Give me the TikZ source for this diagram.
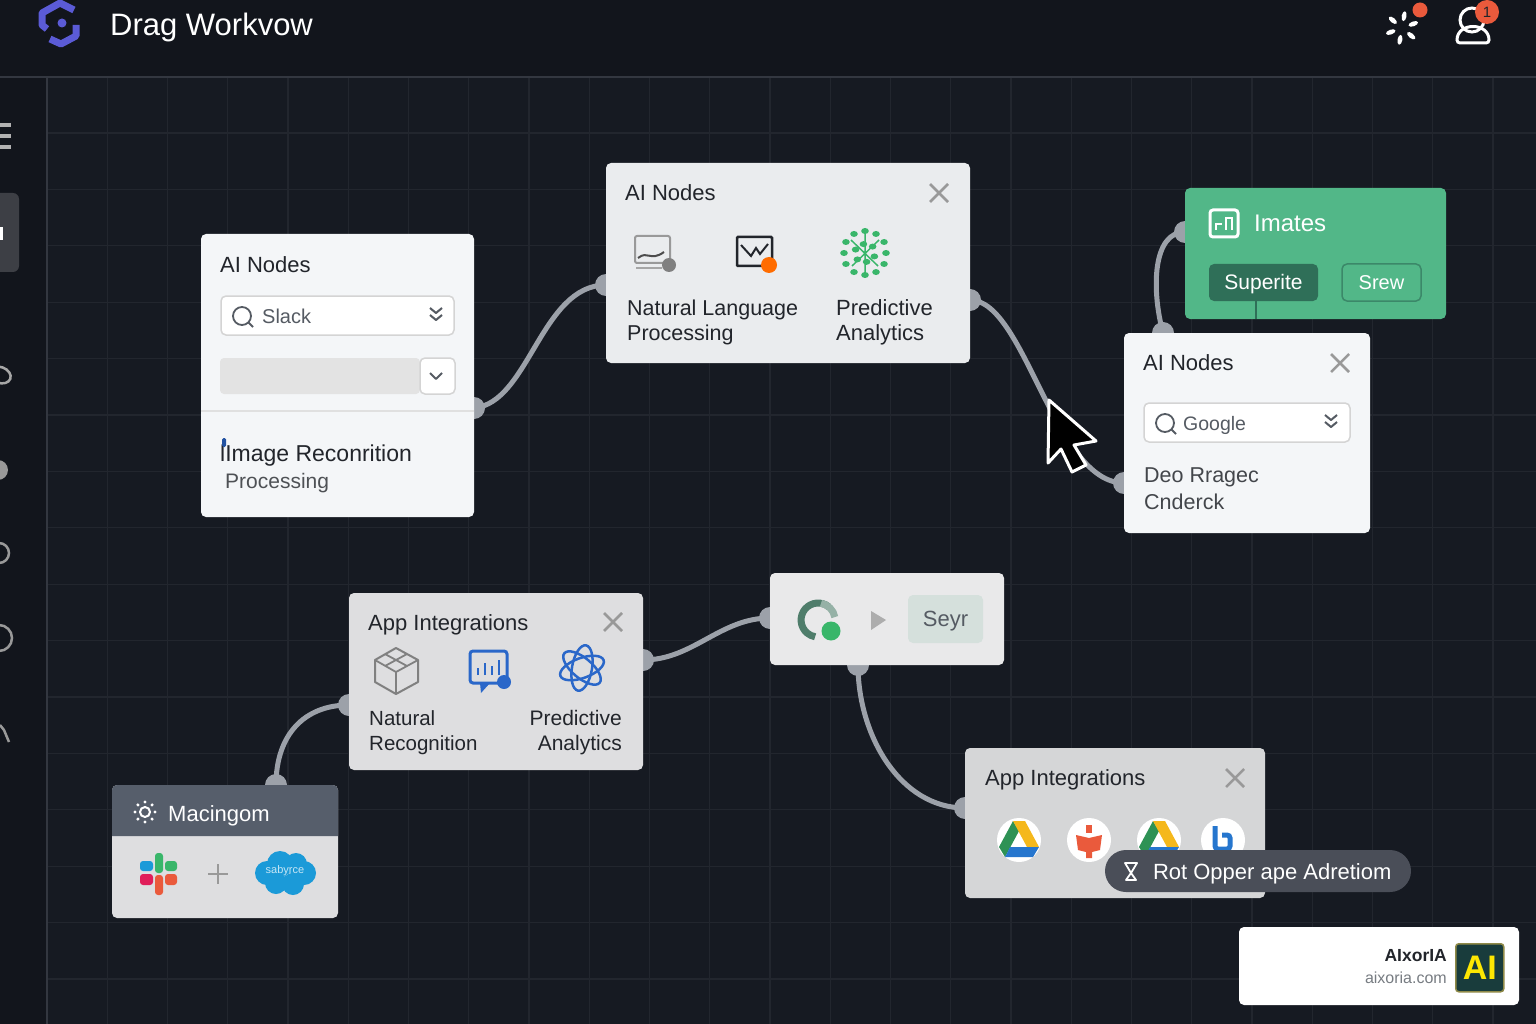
\documentclass[tikz,border=0pt]{standalone}
\usepackage{fontspec}
\setmainfont{Liberation Sans}
\usepackage{tikz}
\usetikzlibrary{positioning,calc,shapes.geometric,shapes.misc}
\definecolor{bgdark}{HTML}{161A22}
\definecolor{bgtop}{HTML}{12151C}
\definecolor{gridc}{HTML}{22262E}
\definecolor{edgec}{HTML}{333740}
\definecolor{wirec}{HTML}{9CA1A9}
\definecolor{inkc}{HTML}{22252B}
\definecolor{softc}{HTML}{555B63}
\definecolor{greenc}{HTML}{52B788}
\definecolor{dgreen}{HTML}{2F6F58}
\definecolor{bluec}{HTML}{2A67C9}
\definecolor{leafc}{HTML}{39B66A}
\definecolor{pillc}{HTML}{4A4E58}
\definecolor{headc}{HTML}{565E6B}
\definecolor{purplec}{HTML}{5B5BD6}
\definecolor{redc}{HTML}{EA5A3C}
\definecolor{yellowc}{HTML}{F5B81C}
\definecolor{skyc}{HTML}{1B9AD8}
\definecolor{pinkc}{HTML}{E01E5A}
\definecolor{ringc}{HTML}{4F7D6B}
\definecolor{paperc}{HTML}{F4F6F8}
\definecolor{sagec}{HTML}{D5E0DC}
\pgfdeclarelayer{edgelayer}
\pgfsetlayers{edgelayer,main}
\tikzstyle{panel}=[anchor=north west, rectangle, rounded corners=5pt, inner sep=0pt, outer sep=0pt]
\tikzstyle{lightp}=[panel, fill=paperc]
\tikzstyle{greyp}=[panel, fill=white!85!gridc]
\tikzstyle{field}=[panel, draw=black!17, line width=1.5pt, fill=white]
\tikzstyle{lb}=[anchor=west, inner sep=0pt, text=inkc, align=left, yshift=-2.5pt, node font=\fontsize{22}{25}\selectfont]
\tikzstyle{sm}=[lb, text=softc, node font=\fontsize{20}{25}\selectfont]
\tikzstyle{btn}=[panel, text=white, text height=16pt, text depth=2pt, node font=\fontsize{21}{25}\selectfont]
\tikzstyle{dot}=[circle, fill=wirec, inner sep=0pt, minimum size=22pt]
\tikzstyle{wire}=[draw=wirec, line width=5pt]
\tikzstyle{cls}=[draw=black!40, line width=2.5pt]
\tikzstyle{chev}=[draw=softc, line width=2pt, line join=round]
\begin{document}
\begin{tikzpicture}[x=1pt, y=-1pt]
        \useasboundingbox (0,0) rectangle (1536,1024);
        \clip (0,0) rectangle (1536,1024);
        \begin{pgfonlayer}{edgelayer}
        \fill[bgdark] (0,0) rectangle (1536,1024);
        \fill[bgtop] (0,0) rectangle (1536,77);
        \fill[bgtop] (0,77) rectangle (47,1024);
        \foreach \gx in {107.25,167.5,...,1530}
                \draw[gridc, line width=1.2pt] (\gx,77) -- (\gx,1024);
        \foreach \gy in {133,189.4,...,1020}
                \draw[gridc, line width=1.2pt] (47,\gy) -- (1536,\gy);
        \draw[edgec, line width=2pt] (0,77) -- (1536,77);
        \draw[edgec, line width=2pt] (47,77) -- (47,1024);
        \end{pgfonlayer}

        \node (p1) [lightp, minimum width=273pt, minimum height=283pt] at (201,234) {};
        \node (p2) [lightp, fill=paperc!96!black, minimum width=364pt, minimum height=200pt] at (606,163) {};
        \node (p3) [panel, fill=greenc, minimum width=261pt, minimum height=131pt] at (1185,188) {};
        \node (p4) [lightp, minimum width=246pt, minimum height=200pt] at (1124,333) {};
        \node (p5) [greyp, minimum width=294pt, minimum height=177pt] at (349,593) {};
        \node (p6) [lightp, fill=white!90!gridc, minimum width=234pt, minimum height=92pt] at (770,573) {};
        \node (p7) [greyp, fill=white!81!gridc, minimum width=300pt, minimum height=150pt] at (965,748) {};
        \node (p8) [greyp, minimum width=226pt, minimum height=133pt] at (112,785) {};

        \begin{pgfonlayer}{edgelayer}
        \node (h1) [dot] at (p1.east |- 0,408) {};
        \node (h2) [dot] at (p2.west |- 0,285) {};
        \node (h3) [dot] at (p2.east |- 0,300) {};
        \node (h4) [dot] at (p4.west |- 0,483) {};
        \node (h5) [dot] at (1163,333) {};
        \node (h6) [dot] at (p3.west |- 0,232) {};
        \node (h7) [dot] at (p5.east |- 0,660) {};
        \node (h8) [dot] at (p6.west |- 0,618) {};
        \node (h9) [dot] at (858,665) {};
        \node (h10) [dot] at (p7.west |- 0,808) {};
        \node (h11) [dot] at (276,785) {};
        \node (h12) [dot] at (p5.west |- 0,705) {};
        \draw[wire] (h1.center) .. controls +(55,-5) and +(-65,0) .. (h2.center);
        \draw[wire] (h3.center) .. controls +(55,0) and +(-70,0) .. (h4.center);
        \draw[wire] (h5.center) .. controls +(-12,-45) and +(-32,0) .. (h6.center);
        \draw[wire] (h7.center) .. controls +(50,0) and +(-50,0) .. (h8.center);
        \draw[wire] (h9.center) .. controls +(0,70) and +(-65,0) .. (h10.center);
        \draw[wire] (h11.center) .. controls +(0,-50) and +(-45,0) .. (h12.center);
        \end{pgfonlayer}

        \node (ttl) [lb, text=white, node font=\fontsize{31}{35}\selectfont] at (110,25) {Drag Workvow};
        \draw[purplec, line width=7pt, line join=round] (47,29) -- (42,25) -- (42,13) -- (60,3) -- (74,10);
        \draw[purplec, line width=7pt, line join=round] (76,25) -- (76,36) -- (61,44) -- (50,39);
        \fill[purplec] (62,23) circle (4.5);
        \foreach \da in {20,80,140,200,260,320}
                \fill[white, rotate around={\da:(1402,28)}] (1402+12,28) ellipse (5 and 2.4);
        \fill[redc] (1420,10) circle (7.5);
        \draw[white, line width=3pt] (1472,20) circle (12);
        \draw[white, line width=3pt, rounded corners=3pt] (1457,43) .. controls (1457,22) and (1489,22) .. (1489,43) -- cycle;
        \node (bdg) [circle, fill=redc, inner sep=0pt, minimum size=24pt, text=inkc, node font=\fontsize{15}{16}\selectfont] at (1487,12) {1};

        \foreach \sy in {125,136,147}
                \draw[black!30, line width=3.5pt] (-2,\sy) -- (11,\sy);
        \fill[white!18!bgtop, rounded corners=6pt] (-8,193) rectangle (19,272);
        \fill[white] (-2,227) rectangle (3,240);
        \draw[black!35, line width=2.5pt, rotate around={-20:(0,375)}] (0,375) ellipse (11 and 8);
        \fill[black!40] (-2,470) circle (10);
        \draw[black!40, line width=2.5pt] (-1,553) circle (10);
        \draw[black!40, line width=2.5pt] (-1,638) circle (13);
        \draw[black!40, line width=2.5pt] (0,725) -- (4,730) -- (9,742);

        \node (a1) [lb, below right=28pt and 19pt of p1.north west, anchor=west] {AI Nodes};
        \node (a2) [field, minimum width=233pt, minimum height=39pt] at (221,296) {};
        \node (a3) [sm, right=41pt of a2.west, anchor=west, yshift=2pt] {Slack};
        \fill[black!11, rounded corners=4pt] (220,358) rectangle (420,394);
        \node (a4) [field, minimum width=35pt, minimum height=36pt] at (420,358) {};
        \draw[black!12, line width=1.5pt] (p1.west |- 0,411) -- (p1.east |- 0,411);
        \node (a5) [lb, below right=219pt and 19pt of p1.north west, anchor=west, node font=\fontsize{23}{25}\selectfont] {lImage Reconrition};
        \node (a6) [sm, node font=\fontsize{21}{25}\selectfont, below right=247pt and 24pt of p1.north west, anchor=west, text=inkc!80!white] {Processing};
        \fill[bluec!80!black, rounded corners=1.5pt] (222,438) rectangle (226,447);

        \node (b1) [lb, below right=27pt and 19pt of p2.north west, anchor=west] {AI Nodes};
        \node (b2) [lb, node font=\fontsize{21.5}{25}\selectfont, below right=157pt and 21pt of p2.north west, anchor=west] {Natural Language\\Processing};
        \node (b3) [lb, below right=157pt and 230pt of p2.north west, anchor=west] {Predictive\\Analytics};
        \draw[black!40, line width=2pt, rounded corners=2pt] (635,236) rectangle (670,263);
        \draw[black!70, line width=2pt] (638,258) .. controls (648,250) and (650,262) .. (664,252);
        \draw[black!35, line width=2pt] (636,268) -- (662,268);
        \fill[black!50] (669,265) circle (7);
        \draw[inkc, line width=2.5pt, rounded corners=1pt] (737,237) rectangle (772,266);
        \draw[inkc, line width=2pt] (741,245) -- (751,256) -- (756,248) -- (760,254) -- (768,244);
        \fill[orange!85!red] (769,265) circle (8);
        \foreach \ga/\gr in {0/21,30/22,60/22,90/22,120/22,150/22,180/21,210/22,240/22,270/22,300/22,330/22,20/10,80/9,140/10,200/10,260/9,320/10}
                \fill[leafc] (865,253) ++(\ga:\gr) ellipse (3.8 and 3);
        \draw[leafc, line width=1.5pt] (851,240) -- (878,266) (879,240) -- (852,266) (865,231) -- (865,276);

        \node (c1) [lb, text=white, node font=\fontsize{24}{25}\selectfont, below right=33pt and 69pt of p3.north west, anchor=west] {Imates};
        \draw[white, line width=3pt, rounded corners=3pt] (1210,210) rectangle (1238,237);
        \draw[white, line width=2pt] (1216,230) -- (1216,224) -- (1222,224) (1226,230) -- (1226,218) -- (1232,218) -- (1232,230);
        \node (c2) [btn, fill=dgreen, minimum width=109pt, minimum height=37pt] at (1209,264) {Superite};
        \node (c3) [btn, draw=dgreen!65!greenc, line width=1.5pt, node font=\fontsize{20}{25}\selectfont, fill=greenc, minimum width=79pt, minimum height=37pt] at (1342,264) {Srew};
        \draw[dgreen, line width=1.5pt] (c2.south -| 1256,0) -- (1256,319);

        \node (d1) [lb, below right=27pt and 19pt of p4.north west, anchor=west] {AI Nodes};
        \node (d2) [field, minimum width=206pt, minimum height=39pt] at (1144,403) {};
        \node (d3) [sm, node font=\fontsize{19.5}{25}\selectfont, right=39pt of d2.west, anchor=west] {Google};
        \node (d4) [lb, node font=\fontsize{21.5}{27}\selectfont, text=inkc!85!white, below right=153.5pt and 20pt of p4.north west, anchor=west] {Deo Rragec\\Cnderck};

        \foreach \cx/\cy in {939/193,1340/363,613/622,1235/778} {
                \draw[cls] (\cx-9,\cy-9) -- (\cx+9,\cy+9);
                \draw[cls] (\cx-9,\cy+9) -- (\cx+9,\cy-9);
        }
        \foreach \mx/\my in {242/316,1165/423} {
                \draw[softc, line width=1.8pt] (\mx,\my) circle (9);
                \draw[softc, line width=1.8pt] (\mx+6.5,\my+6.5) -- (\mx+11,\my+11);
        }
        \foreach \kx/\ky in {436/311,436/318,1331/418,1331/425}
                \draw[chev] (\kx-6,\ky-3) -- (\kx,\ky+2) -- (\kx+6,\ky-3);
        \draw[chev] (430,373) -- (436,379) -- (442,373);

        \node (e1) [lb, below right=29pt and 19pt of p5.north west, anchor=west] {App Integrations};
        \node (e2) [lb, node font=\fontsize{20.5}{25}\selectfont, below right=137pt and 20pt of p5.north west, anchor=west] {Natural\\Recognition};
        \node (e3) [lb, node font=\fontsize{21}{25}\selectfont, below left=137pt and 21pt of p5.north east, anchor=east, align=right] {Predictive\\Analytics};
        \draw[black!50, line width=2pt, line join=round] (396,648) -- (418,660) -- (418,682) -- (396,694) -- (375,682) -- (375,660) -- cycle;
        \draw[black!50, line width=1.8pt] (375,660) -- (396,672) -- (418,660) (396,672) -- (396,694) (385,654) -- (407,666) (407,654) -- (385,666);
        \draw[bluec, line width=3pt, rounded corners=3pt] (470,651) rectangle (507,683);
        \fill[bluec] (480,683) -- (490,683) -- (481,693) -- cycle;
        \foreach \bx/\bh in {478/7,485/12,492/9,499/15}
                \draw[bluec, line width=2.5pt] (\bx,675) -- (\bx,675-\bh);
        \fill[bluec] (504,682) circle (7);
        \foreach \ra in {20,80,140}
                \draw[bluec, line width=2.5pt, rotate around={\ra:(582,668)}] (582,668) ellipse (23 and 10);

        \node (f1) [btn, fill=sagec, minimum width=75pt, minimum height=48pt, text=softc, node font=\fontsize{22}{25}\selectfont] at (908,595) {Seyr};
        \draw[ringc, line width=7pt] (829,607) arc (-50:-260:17);
        \draw[ringc!60!white, line width=7pt] (821,603.3) arc (-80:-10:17);
        \fill[leafc] (831,631) circle (9.5);
        \fill[black!32] (871,611) -- (886,620) -- (871,630) -- cycle;

        \node (g1) [lb, below right=29pt and 20pt of p7.north west, anchor=west] {App Integrations};
        \foreach \wx/\wy in {1019/840,1089/840,1159/840,1223/840}
                \fill[white] (\wx,\wy) circle (22);
        \foreach \dx in {1019,1159} {
                \fill[leafc!80!black] (\dx-6,821) -- (\dx,831) -- (\dx-14,857) -- (\dx-20,847) -- cycle;
                \fill[yellowc] (\dx-6,821) -- (\dx+6,821) -- (\dx+20,847) -- (\dx+8,847) -- cycle;
                \fill[bluec!90!cyan] (\dx-9,847) -- (\dx+20,847) -- (\dx+14,857) -- (\dx-14,857) -- cycle;
        }
        \fill[redc] (1086,825) rectangle (1092,833);
        \fill[redc] (1076,835) -- (1089,838) -- (1102,835) -- (1100,850) -- (1092,852) -- (1092,858) -- (1086,858) -- (1086,852) -- (1078,850) -- cycle;
        \draw[bluec!90!cyan, line width=5pt, rounded corners=3pt] (1215,826) -- (1215,849) -- (1230,849) -- (1230,835) -- (1222,835);

        \node (g2) [rounded rectangle, fill=pillc, minimum width=306pt, minimum height=42pt, inner sep=0pt] at (1258,871) {};
        \node (g3) [lb, text=white, right=48pt of g2.west, anchor=west] {Rot Opper ape Adretiom};
        \draw[white, line width=1.8pt, line join=round] (1125,863) -- (1137,863) -- (1131,873) -- cycle (1131,873) -- (1126,880) -- (1136,880) -- cycle;

        \fill[headc] (112,836) [rounded corners=5pt] -- (112,785) -- (338,785) [sharp corners] -- (338,836) -- cycle;
        \node (m1) [lb, text=white, below right=28pt and 56pt of p8.north west, anchor=west] {Macingom};
        \draw[white, line width=2pt] (145,812) circle (5);
        \foreach \sa in {0,45,...,315}
                \fill[white] (145,812) ++(\sa:10) circle (1.7);
        \fill[leafc, rounded corners=3pt] (155,853) rectangle (163,873);
        \fill[redc, rounded corners=3pt] (155,875) rectangle (163,895);
        \fill[skyc, rounded corners=3pt] (140,861) rectangle (153,871);
        \fill[pinkc, rounded corners=3pt] (140,874) rectangle (153,885);
        \fill[leafc, rounded corners=3pt] (165,861) rectangle (177,871);
        \fill[redc, rounded corners=3pt] (165,874) rectangle (177,885);
        \draw[black!40, line width=2.5pt] (208,874) -- (228,874) (218,864) -- (218,884);
        \foreach \lx/\ly/\lr in {267/873/12,280/864/13,296/864/11,304/873/12,276/883/11,293/884/11}
                \fill[skyc] (\lx,\ly) circle (\lr);
        \node (m2) [text=white!75!skyc, inner sep=0pt, node font=\fontsize{11}{12}\selectfont] at (285,871) {sabyrce};

        \draw[white, fill=black, line width=3pt, line join=round] (1049,400) -- (1096,441) -- (1074,445) -- (1086,465) -- (1072,472) -- (1061,449) -- (1048,463) -- cycle;

        \node (w1) [panel, fill=white, minimum width=280pt, minimum height=78pt] at (1239,927) {};
        \node (w2) [anchor=north west, fill=teal!30!black!90, draw=yellow!50!black, line width=1.5pt, rounded corners=3pt, inner sep=0pt, minimum width=48pt, minimum height=48pt, text=yellow!90!orange, node font=\fontsize{34}{35}\selectfont\bfseries] at (1455,943) {AI};
        \node (w3) [lb, node font=\fontsize{17.5}{20}\selectfont\bfseries, left=8pt of w2.west, anchor=east, yshift=15pt] {AIxorIA};
        \node (w4) [lb, text=softc!80!white, node font=\fontsize{16}{20}\selectfont, left=8pt of w2.west, anchor=east, yshift=-8pt] {aixoria.com};
\end{tikzpicture}
\end{document}
